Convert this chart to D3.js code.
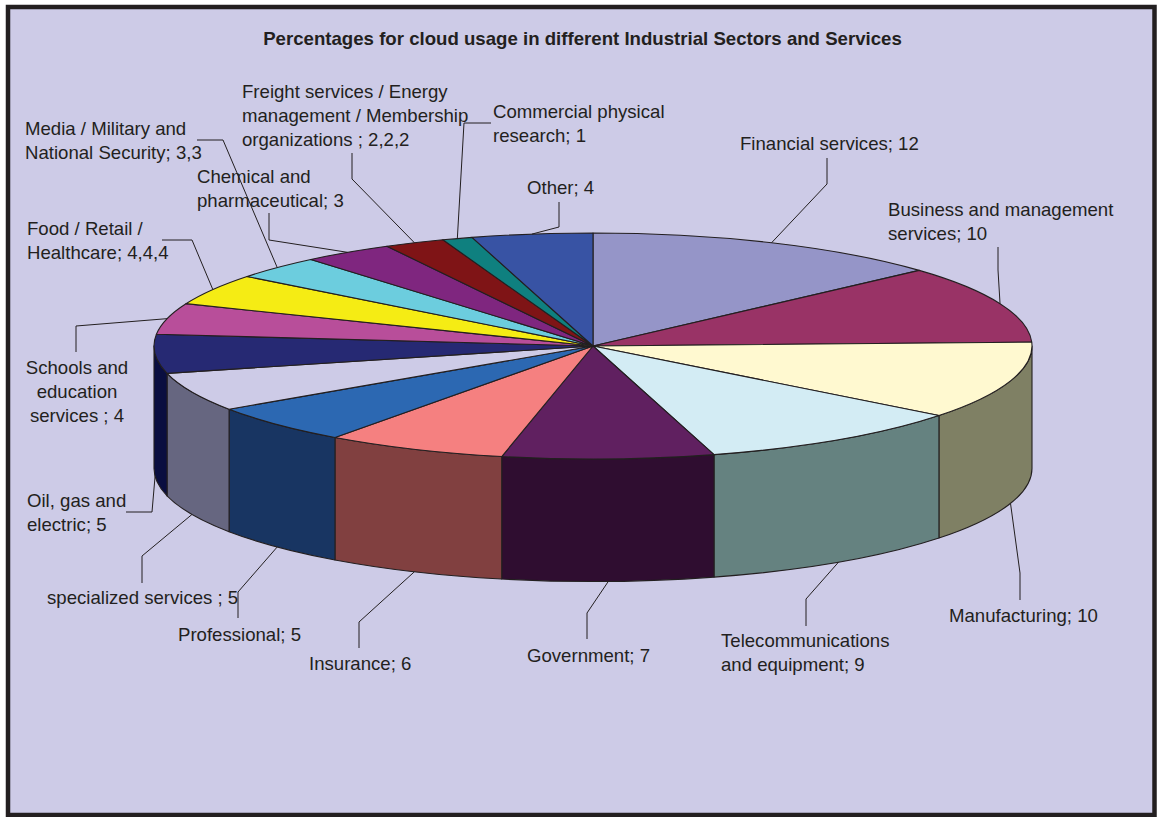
<!DOCTYPE html>
<html>
<head>
<meta charset="utf-8">
<title>Cloud usage pie</title>
<script src="https://cdn.jsdelivr.net/npm/d3@7/dist/d3.min.js"></script>
<style>
  body { margin: 0; background: #fff; }
  svg { display: block; }
  text { font-family: "Liberation Sans", Arial, sans-serif; fill: #231f20; }
</style>
</head>
<body>
<div id="chart"></div>
<script>
var chartTitle = "Percentages for cloud usage in different Industrial Sectors and Services";

// clockwise from 12 o'clock
var categories = ["Financial", "Business", "Manufacturing", "Telecom", "Government", "Insurance",
  "Professional", "Specialized", "Oil", "Schools", "Food", "Media", "Chemical", "Freight", "Commercial", "Other"];
var values = [12, 10, 10, 9, 7, 6, 5, 5, 5, 4, 4, 3, 3, 2, 1, 4];

var labelLines = [
  ["Financial services; 12"],
  ["Business and management", "services; 10"],
  ["Manufacturing; 10"],
  ["Telecommunications", "and equipment; 9"],
  ["Government; 7"],
  ["Insurance; 6"],
  ["Professional; 5"],
  ["specialized services ; 5"],
  ["Oil, gas and", "electric; 5"],
  ["Schools and", "education", "services ; 4"],
  ["Food / Retail /", "Healthcare; 4,4,4"],
  ["Media / Military and", "National Security; 3,3"],
  ["Chemical and", "pharmaceutical; 3"],
  ["Freight services / Energy", "management / Membership", "organizations ; 2,2,2"],
  ["Commercial physical", "research; 1"],
  ["Other; 4"]
];

var topColors = ["#9595c8", "#993366", "#fff9d0", "#d3ecf4", "#602060", "#f58080", "#2c68b2", "#cdcbe7",
  "#262973", "#b84e9a", "#f5ec14", "#6ccdde", "#7f267f", "#7f1416", "#0f807f", "#3853a4"];
var sideColors = ["#4a4a64", "#4c1933", "#7f8064", "#658280", "#2f0d30", "#814040", "#183562", "#666680",
  "#0a0e40", "#5c274d", "#7a760a", "#36666f", "#3f133f", "#3f0a0b", "#07403f", "#1c2952"];

// label placement: left x, first baseline, anchor
var labelX = [740, 888, 949, 721, 527, 309, 178, 47, 27, 77, 27, 25, 197, 242, 493, 527];
var labelY = [150, 216, 622, 647, 662, 670, 641, 604, 507, 374, 235, 135, 183, 98, 118, 194];
var labelAnchor = ["start", "start", "start", "start", "start", "start", "start", "start", "start", "middle",
  "start", "start", "start", "start", "start", "start"];

// leader polylines: the points before the rim point
var leaderPts = [
  [[827, 158], [827, 184]],
  [[998, 247], [998, 270]],
  [[1020, 600], [1020, 573]],
  [[806, 626], [806, 599]],
  [[587, 639], [587, 613]],
  [[359, 648], [359, 622]],
  [[238, 618], [238, 592]],
  [[142, 583], [142, 556]],
  [[126, 512], [152, 512]],
  [[76, 352], [76, 326]],
  [[162, 240], [192, 240]],
  [[197, 140], [223, 140]],
  [[269, 213], [269, 240]],
  [[352, 153], [352, 179]],
  [[491, 123], [464, 123]],
  [[559, 202], [559, 227]]
];

var width = 1158, height = 817;
var cx = 593, cy = 346, rx = 439, ry = 113, depth = 122.5;
var lineGap = 24;

var svg = d3.select("#chart").append("svg")
  .attr("width", width)
  .attr("height", height);

// frame
svg.append("rect")
  .attr("x", 8).attr("y", 7)
  .attr("width", 1146.5).attr("height", 808)
  .attr("fill", "#cdcbe7")
  .attr("stroke", "#231f20")
  .attr("stroke-width", 4.5);

svg.append("text")
  .attr("x", 582.5).attr("y", 45)
  .attr("text-anchor", "middle")
  .style("font-size", "18.64px")
  .style("font-weight", "bold")
  .text(chartTitle);

var pie = d3.pie().sort(null).value(function(d) { return d; });
var slices = pie(values);

var rimX = d3.scaleLinear().domain([-1, 1]).range([cx - rx, cx + rx]);
var rimY = d3.scaleLinear().domain([-1, 1]).range([cy - ry, cy + ry]);

function rimPoint(a, dy) {
  return [rimX(Math.sin(a)), rimY(-Math.cos(a)) + (dy || 0)];
}

// side wall, only the part that faces the viewer
function sidePath(d) {
  var a0 = Math.max(d.startAngle, Math.PI / 2),
      a1 = Math.min(d.endAngle, Math.PI * 1.5);
  if (a1 <= a0) return null;
  var p0 = rimPoint(a0), p1 = rimPoint(a1), q1 = rimPoint(a1, depth), q0 = rimPoint(a0, depth);
  return "M" + p0 + "A" + rx + "," + ry + " 0 0 1 " + p1 +
    "L" + q1 + "A" + rx + "," + ry + " 0 0 0 " + q0 + "Z";
}

svg.append("g").selectAll("path")
  .data(slices.filter(function(d) { return sidePath(d); }))
  .enter().append("path")
  .attr("d", sidePath)
  .attr("fill", function(d) { return sideColors[d.index]; })
  .attr("stroke", "#231f20")
  .attr("stroke-width", 1.1)
  .attr("stroke-linejoin", "round");

var arc = d3.arc().innerRadius(0).outerRadius(rx);

svg.append("g")
  .attr("transform", "translate(" + cx + "," + cy + ") scale(1," + (ry / rx) + ")")
  .selectAll("path")
  .data(slices)
  .enter().append("path")
  .attr("d", arc)
  .attr("fill", function(d) { return topColors[d.index]; })
  .attr("stroke", "#231f20")
  .attr("stroke-width", 1.1)
  .attr("stroke-linejoin", "round")
  .attr("vector-effect", "non-scaling-stroke");

// leaders run to the rim at the middle of each slice
var line = d3.line();
svg.append("g").selectAll("path")
  .data(slices)
  .enter().append("path")
  .attr("d", function(d) {
    var mid = (d.startAngle + d.endAngle) / 2;
    var front = mid > Math.PI / 2 && mid < Math.PI * 1.5;
    return line(leaderPts[d.index].concat([rimPoint(mid, front ? depth : 0)]));
  })
  .attr("fill", "none")
  .attr("stroke", "#231f20")
  .attr("stroke-width", 1);

var labels = svg.append("g").selectAll("text")
  .data(categories)
  .enter().append("text")
  .attr("text-anchor", function(d, i) { return labelAnchor[i]; })
  .style("font-size", "18.6px");

labels.each(function(d, i) {
  d3.select(this).selectAll("tspan")
    .data(labelLines[i])
    .enter().append("tspan")
    .attr("x", labelX[i])
    .attr("y", function(t, j) { return labelY[i] + j * lineGap; })
    .text(function(t) { return t; });
});
</script>
</body>
</html>
